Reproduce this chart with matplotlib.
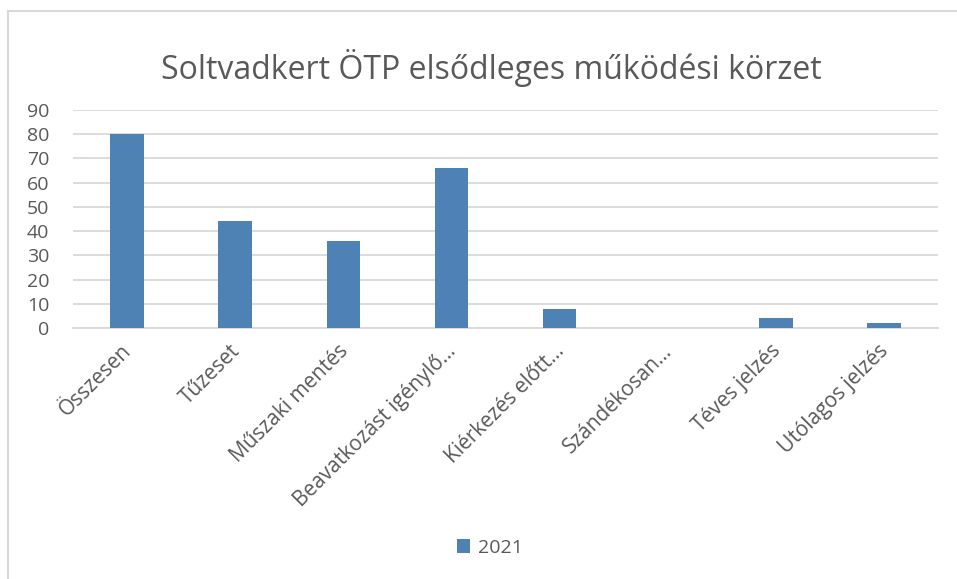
import matplotlib
matplotlib.use("Agg")
import matplotlib.pyplot as plt
import matplotlib.transforms as mtransforms
from matplotlib.lines import Line2D
import numpy as np

categories = ["Összesen", "Tűzeset", "Műszaki mentés", "Beavatkozást igénylő…",
              "Kiérkezés előtt…", "Szándékosan…", "Téves jelzés", "Utólagos jelzés"]
values_2021 = [80, 44, 36, 66, 8, 0, 4, 2]
series_name = "2021"
title = "Soltvadkert ÖTP elsődleges működési körzet"

BAR = "#4E81B4"
GRID = "#D9D9D9"
TEXT = "#595959"

plt.rcParams["font.family"] = ["Open Sans", "DejaVu Sans"]

W, H = 957, 579
fig = plt.figure(figsize=(W / 100, H / 100), dpi=100)
ax = fig.add_axes([73 / W, 1 - 328 / H, 865 / W, (328 - 110) / H])

x = np.arange(len(categories))
ax.bar(x, values_2021, width=0.31, color=BAR, label=series_name, zorder=3)

ax.set_xlim(-0.5, len(categories) - 0.5)
ax.set_ylim(0, 90)
ax.set_yticks(range(0, 91, 10))
ax.yaxis.grid(True, color=GRID, linewidth=1.3)
ax.set_axisbelow(True)
for s in ["top", "right", "left"]:
    ax.spines[s].set_visible(False)
ax.spines["bottom"].set_color(GRID)
ax.spines["bottom"].set_linewidth(1.3)
ax.tick_params(axis="both", length=0, colors=TEXT, labelsize=14)
ax.tick_params(axis="y", pad=17)
ax.tick_params(axis="x", pad=9, labelsize=15)
ax.set_xticks(x)
ax.set_xticklabels(categories, rotation=45, ha="right", rotation_mode="anchor")
# nudge the rotated labels a little left, like the original
shift = mtransforms.ScaledTranslation(-6 / 100, 0, fig.dpi_scale_trans)
for lbl in ax.get_xticklabels():
    lbl.set_transform(lbl.get_transform() + shift)

fig.text(491 / W, 1 - 68 / H, title, ha="center", va="center", fontsize=23, color=TEXT)

ax.legend(loc="center", bbox_to_anchor=(490 / W, 1 - 548 / H), bbox_transform=fig.transFigure,
          frameon=False, fontsize=14, labelcolor=TEXT, handlelength=0.7, handleheight=0.7,
          handletextpad=0.4)

# outer chart frame (only top and left edges visible in the crop)
fig.add_artist(Line2D([8 / W, 8 / W], [0, 1 - 11 / H], transform=fig.transFigure,
                      color=GRID, linewidth=1.5))
fig.add_artist(Line2D([8 / W, 1], [1 - 11 / H, 1 - 11 / H], transform=fig.transFigure,
                      color=GRID, linewidth=1.5))

fig.savefig("out.png", dpi=100)
